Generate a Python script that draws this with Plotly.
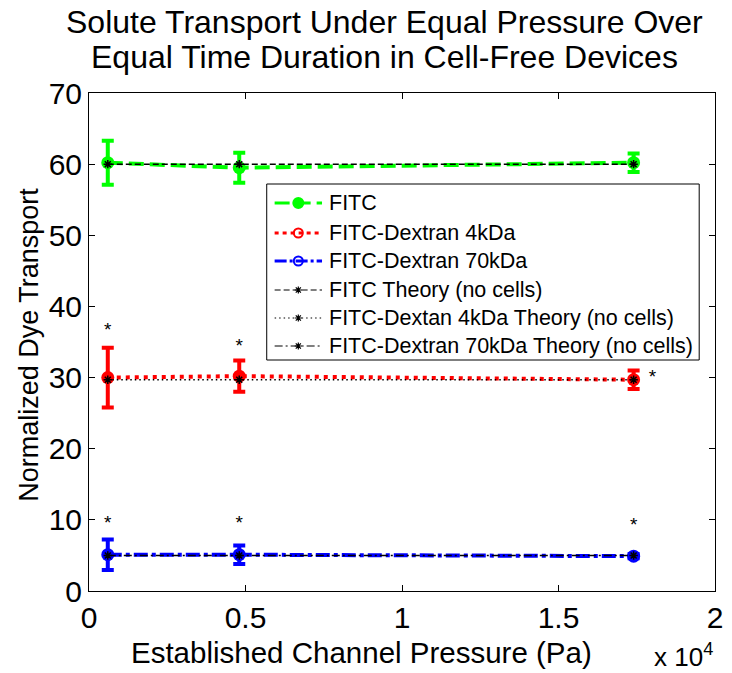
import plotly.graph_objects as go

# Channel pressure (Pa) at which each device was run
pressure = [600, 4800, 17400]

# Measured normalized transport (mean, std)
fitc_mean = [60.2, 59.5, 60.2]
fitc_err = [3.1, 2.1, 1.3]
dex4_mean = [30.0, 30.2, 29.7]
dex4_err = [4.2, 2.2, 1.3]
dex70_mean = [5.1, 5.1, 4.9]
dex70_err = [2.15, 1.3, 0.3]

# Theoretical transport without cells
fitc_theory = [60.0, 60.0, 60.0]
dex4_theory = [29.7, 29.7, 29.7]
dex70_theory = [5.0, 5.0, 5.0]

# Significance markers (x in Pa, y in transport units)
star_x = [600, 4800, 18000, 600, 4800, 17400]
star_y = [36.5, 34.3, 29.9, 9.4, 9.4, 9.1]

x_tickvals = [0, 5000, 10000, 15000, 20000]
x_ticktext = ["0", "0.5", "1", "1.5", "2"]
y_tickvals = [0, 10, 20, 30, 40, 50, 60, 70]

FONT = "Liberation Sans, Arial, sans-serif"

# Page geometry (pixels)
W, H = 732, 673
L, R, T, B = 89, 9, 93, 82
pw, ph = W - L - R, H - T - B

fig = go.Figure()

measured = [
    ("FITC", fitc_mean, fitc_err, "#00ff00", "15px,6px"),
    ("FITC-Dextran 4kDa", dex4_mean, dex4_err, "#ff0000", "4px,5px"),
    ("FITC-Dextran 70kDa", dex70_mean, dex70_err, "#0000ff", "14px,4px,4px,4px"),
]
for name, ys, errs, color, dash in measured:
    fig.add_trace(go.Scatter(
        x=pressure, y=ys, name=name, mode="lines+markers", showlegend=False,
        line=dict(color=color, width=4, dash=dash),
        marker=dict(symbol="circle", size=13, color=color),
        error_y=dict(type="data", array=errs, color=color, thickness=4, width=6),
    ))

theory = [
    ("FITC Theory (no cells)", fitc_theory, "6px,3px"),
    ("FITC-Dextan 4kDa Theory (no cells)", dex4_theory, "1.5px,3px"),
    ("FITC-Dextran 70kDa Theory (no cells)", dex70_theory, "8px,3px,2px,3px"),
]
for name, ys, dash in theory:
    fig.add_trace(go.Scatter(
        x=pressure, y=ys, name=name, mode="lines+markers", showlegend=False,
        line=dict(color="black", width=1.5, dash=dash),
        marker=dict(symbol="asterisk-open", size=7, color="black",
                    line=dict(color="black", width=1.5)),
    ))

fig.add_trace(go.Scatter(
    x=star_x, y=star_y, mode="text", text=["*"] * len(star_x),
    textfont=dict(family=FONT, size=19, color="black"),
    showlegend=False, hoverinfo="skip",
))

# Legend box drawn on a pixel-unit overlay axis
leg_left, leg_top, leg_right, leg_bottom = 269, 184, 707, 360
leg_rows = [203, 233, 261, 290, 318, 346]
legend_items = [
    ("FITC", "#00ff00", 3, "15px,6px", "circle", 10),
    ("FITC-Dextran 4kDa", "#ff0000", 3, "4px,4px", "circle-open", 9),
    ("FITC-Dextran 70kDa", "#0000ff", 3, "12px,3px,3px,3px", "circle-open", 9),
    ("FITC Theory (no cells)", "black", 1.2, "6px,3px", "asterisk-open", 6),
    ("FITC-Dextan 4kDa Theory (no cells)", "black", 1.2, "1.5px,3px", "asterisk-open", 6),
    ("FITC-Dextran 70kDa Theory (no cells)", "black", 1.2, "8px,3px,2px,3px", "asterisk-open", 6),
]
shapes = [dict(type="rect", xref="x2", yref="y2", x0=leg_left, x1=leg_right,
               y0=leg_top, y1=leg_bottom, line=dict(color="black", width=1),
               fillcolor="white", layer="below")]
annotations = []
for (label, color, lw, dash, sym, msize), yy in zip(legend_items, leg_rows):
    fig.add_trace(go.Scatter(
        x=[277, 325], y=[yy, yy], xaxis="x2", yaxis="y2", mode="lines",
        line=dict(color=color, width=lw, dash=dash),
        showlegend=False, hoverinfo="skip",
    ))
    fig.add_trace(go.Scatter(
        x=[301], y=[yy], xaxis="x2", yaxis="y2", mode="markers",
        marker=dict(symbol=sym, size=msize, color=color,
                    line=dict(color=color, width=2 if "circle" in sym else 1.2)),
        showlegend=False, hoverinfo="skip",
    ))
    annotations.append(dict(text=label, x=330, y=yy, xref="x2", yref="y2",
                            xanchor="left", yanchor="middle", showarrow=False,
                            font=dict(family=FONT, size=21.5, color="black")))

axis_common = dict(
    showgrid=False, zeroline=False, showline=True, linecolor="black",
    linewidth=1, mirror="ticks", ticks="inside", ticklen=6,
    tickcolor="black", tickfont=dict(family=FONT, size=30, color="black"),
)
fig.update_xaxes(range=[0, 20000], tickvals=x_tickvals, ticktext=x_ticktext,
                 **axis_common)
fig.update_yaxes(range=[0, 70], tickvals=y_tickvals, **axis_common)


def px_to_paper(px, py):
    return (px - L) / pw, (H - B - py) / ph


texts = [
    ("Solute Transport Under Equal Pressure Over", 388, 22, 32, 0),
    ("Equal Time Duration in Cell-Free Devices", 388, 57, 32, 0),
    ("Established Channel Pressure (Pa)", 365, 652, 29.5, 0),
    ("Normalized Dye Transport", 28, 345, 27, -90),
    ("x 10<sup>4</sup>", 691, 655, 26, 0),
]
for txt, px, py, size, ang in texts:
    xp, yp = px_to_paper(px, py)
    annotations.append(dict(text=txt, x=xp, y=yp, xref="paper", yref="paper",
                            xanchor="center", yanchor="middle", showarrow=False,
                            textangle=ang,
                            font=dict(family=FONT, size=size, color="black")))

fig.update_layout(
    width=W, height=H,
    margin=dict(l=L, r=R, t=T, b=B),
    plot_bgcolor="white", paper_bgcolor="white",
    font=dict(family=FONT, color="black"),
    showlegend=False,
    xaxis2=dict(overlaying="x", range=[L, W - R], visible=False, fixedrange=True),
    yaxis2=dict(overlaying="y", range=[H - B, T], visible=False, fixedrange=True),
    shapes=shapes,
    annotations=annotations,
)

fig.write_html("out.html")
